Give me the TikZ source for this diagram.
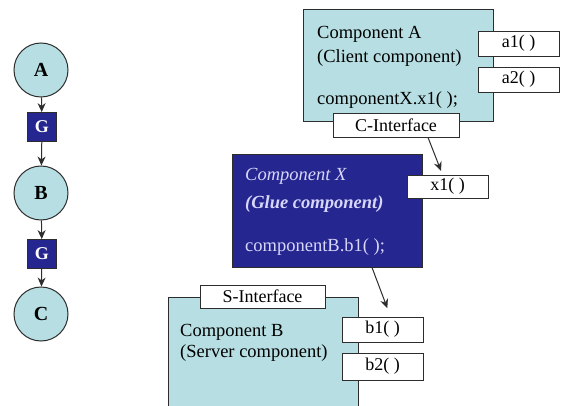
\documentclass[tikz,border=0pt]{standalone}
\usepackage{fontspec}
\setmainfont{Liberation Serif}
\usetikzlibrary{arrows.meta}
\definecolor{teal1}{RGB}{183,223,227}
\definecolor{navy1}{RGB}{38,38,145}
\definecolor{lav}{RGB}{215,215,250}
\definecolor{edge}{RGB}{45,45,45}
\tikzset{
  comp/.style={draw=edge, line width=1pt, fill=teal1, inner sep=0pt},
  glue/.style={draw=edge, line width=1pt, fill=navy1, inner sep=0pt},
  iface/.style={draw=edge, line width=0.9pt, fill=white, inner sep=0pt, font=\fontsize{18}{20}\selectfont},
  txt/.style={anchor=west, inner sep=0pt, font=\fontsize{18.5}{20}\selectfont},
  circ/.style={circle, draw=edge, line width=1pt, fill=teal1, minimum size=54pt, inner sep=0pt, font=\fontsize{20}{20}\selectfont\bfseries},
  gbox/.style={draw=edge, line width=0.8pt, fill=navy1, text=white, minimum size=29pt, inner sep=0pt, font=\fontsize{18}{20}\selectfont\bfseries},
  arr/.style={-{Stealth[length=9pt,width=8pt]}, line width=1pt, draw=edge}
}
\begin{document}
\begin{tikzpicture}[x=1pt,y=-1pt]
\clip (0,0) rectangle (570,406);
\fill[white] (0,0) rectangle (570,406);
% left chain
\node[circ] (A) at (41,70) {A};
\node[gbox] (G1) at (42,127) {G};
\node[circ] (B) at (41,193) {B};
\node[gbox] (G2) at (42,254) {G};
\node[circ] (C) at (41,314) {C};
\draw[arr] (A) -- (G1);
\draw[arr] (G1) -- (B);
\draw[arr] (B) -- (G2);
\draw[arr] (G2) -- (C);
% Component A
\node[comp, minimum width=190pt, minimum height=112pt] (CA) at (398,66) {};
\node[iface, minimum width=81pt, minimum height=25pt] (a1) at (518.5,43.5) {a1( )};
\node[iface, minimum width=81pt, minimum height=25pt] (a2) at (518.5,79.5) {a2( )};
\node[iface, minimum width=126pt, minimum height=24pt] (ci) at (396,125) {C-Interface};
\node[txt] (ta1) at (317,34) {Component A};
\node[txt] (ta2) at (317,58) {(Client component)};
\node[txt] (ta3) at (317,100) {componentX.x1( );};
% Component X
\node[glue, minimum width=190pt, minimum height=112pt] (CX) at (327,211) {};
\node[iface, minimum width=81pt, minimum height=23pt] (x1) at (447.5,186.5) {x1( )};
\node[txt, text=lav] (tx1) at (245,176) {\itshape Component X};
\node[txt, text=lav] (tx2) at (245,204) {\bfseries\itshape (Glue component)};
\node[txt, text=lav] (tx3) at (245,247) {componentB.b1( );};
% Component B
\node[comp, minimum width=190pt, minimum height=140pt] (CB) at (263,367) {};
\node[iface, minimum width=125pt, minimum height=23pt] (si) at (262.5,296.5) {S-Interface};
\node[iface, minimum width=81pt, minimum height=25pt] (b1) at (382.5,329.5) {b1( )};
\node[iface, minimum width=81pt, minimum height=27pt] (b2) at (382.5,366.5) {b2( )};
\node[txt] (tb1) at (180,332) {Component B};
\node[txt] (tb2) at (180,353) {(Server component)};
% connectors
\draw[arr, shorten >=4pt] ([xshift=32pt]ci.south) -- ([xshift=-5pt]x1.north);
\draw[arr, shorten >=9pt] ([xshift=45pt]CX.south) -- ([xshift=8pt]b1.north);
\end{tikzpicture}
\end{document}
